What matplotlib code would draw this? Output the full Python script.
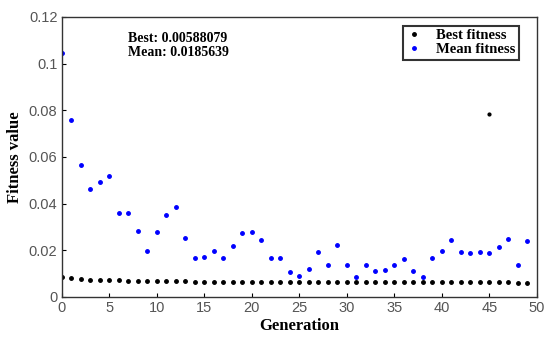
import matplotlib
matplotlib.use("Agg")
import matplotlib.pyplot as plt

# data
generations = list(range(50))
mean_fitness = [0.1047, 0.0757, 0.0566, 0.0461, 0.0494, 0.0519, 0.0360, 0.0360, 0.0282, 0.0199,
                0.0279, 0.0353, 0.0384, 0.0251, 0.0166, 0.0170, 0.0196, 0.0166, 0.0220, 0.0272,
                0.0277, 0.0244, 0.0166, 0.0166, 0.0106, 0.0089, 0.0118, 0.0191, 0.0139, 0.0223,
                0.0135, 0.0086, 0.0135, 0.0111, 0.0115, 0.0139, 0.0163, 0.0111, 0.0086, 0.0166,
                0.0196, 0.0244, 0.0191, 0.0187, 0.0191, 0.0187, 0.0216, 0.0248, 0.0139, 0.0238]
best_fitness = [0.0086, 0.0083, 0.0079, 0.0073, 0.0073, 0.0073, 0.0072, 0.0069, 0.0069, 0.0069,
                0.0069, 0.0069, 0.0069, 0.0069, 0.0066, 0.0066, 0.0066, 0.0066, 0.0066, 0.0066,
                0.0066, 0.0066, 0.0066, 0.0066, 0.0066, 0.0066, 0.0066, 0.0066, 0.0066, 0.0066,
                0.0066, 0.0066, 0.0066, 0.0066, 0.0063, 0.0063, 0.0063, 0.0063, 0.0063, 0.0063,
                0.0063, 0.0063, 0.0063, 0.0063, 0.0063, 0.0063, 0.0063, 0.0063, 0.0059, 0.00588]
stray_x = [45]
stray_y = [0.0786]

xticks = [0, 5, 10, 15, 20, 25, 30, 35, 40, 45, 50]
yticks = [0, 0.02, 0.04, 0.06, 0.08, 0.1, 0.12]
ytick_labels = ["0", "0.02", "0.04", "0.06", "0.08", "0.1", "0.12"]

fig = plt.figure(figsize=(5.5, 3.39), dpi=100)
ax = fig.add_axes([0.112, 0.124, 0.864, 0.826])

ax.plot(generations, best_fitness, ".", color="black", markersize=5, label="Best fitness")
ax.plot(generations, mean_fitness, ".", color="#0000ff", markersize=5, label="Mean fitness")
ax.plot(stray_x, stray_y, ".", color="black", markersize=4)

ax.set_xlim(0, 50)
ax.set_ylim(0, 0.12)
ax.set_xticks(xticks)
ax.set_yticks(yticks)
ax.set_yticklabels(ytick_labels)
ax.tick_params(direction="in", length=3, labelsize=10.5, labelcolor="#555555", pad=3)
for lab in ax.get_xticklabels() + ax.get_yticklabels():
    lab.set_family("Liberation Sans")
for sp in ax.spines.values():
    sp.set_color("#333333")
    sp.set_linewidth(1.0)

ax.set_xlabel("Generation", family="Liberation Serif", weight="bold", fontsize=12, labelpad=2)
ax.set_ylabel("Fitness value", family="Liberation Serif", weight="bold", fontsize=12, labelpad=4)

ax.text(7.0, 0.1135, "Best: 0.00588079\nMean: 0.0185639", family="Liberation Serif",
        weight="bold", fontsize=10, va="top", ha="left", linespacing=1.1)

leg = ax.legend(loc="upper right", bbox_to_anchor=(0.972, 0.985), frameon=True, fancybox=False,
                prop={"family": "Liberation Serif", "weight": "bold", "size": 10.5},
                handlelength=1.0, handletextpad=1.0, borderpad=0.25, labelspacing=0.05,
                markerscale=1.0, borderaxespad=0.3)
leg.get_frame().set_edgecolor("black")
leg.get_frame().set_linewidth(1.5)

fig.savefig("out.png", dpi=100)
